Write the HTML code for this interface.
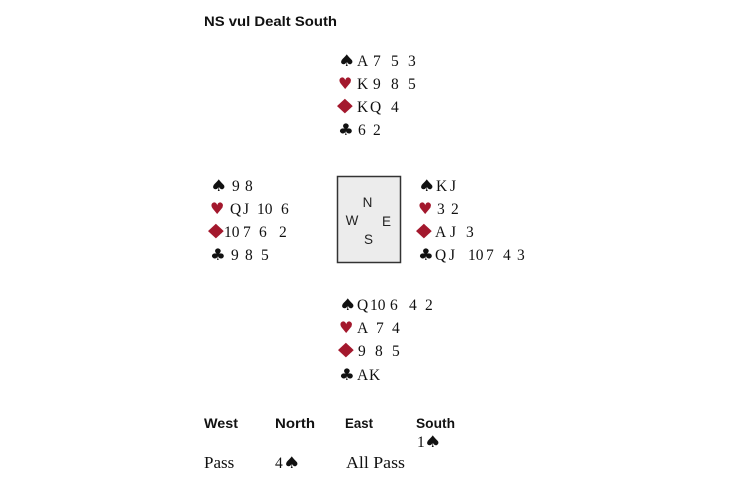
<!DOCTYPE html>
<html><head><meta charset="utf-8"><style>
html,body{margin:0;padding:0;background:#fff;}
svg{display:block;}
.c{font-family:"Liberation Serif",serif;font-size:15.5px;fill:#111;}
.b{font-family:"Liberation Serif",serif;font-size:17px;fill:#111;}
.s{font-family:"DejaVu Sans",sans-serif;font-size:16px;fill:#111;}
.d{font-family:"DejaVu Sans",sans-serif;font-size:19px;fill:#a3182d;}
.r{fill:#a3182d;}
.h{font-family:"Liberation Sans",sans-serif;font-weight:bold;font-size:14px;fill:#111;}
.k{font-family:"Liberation Sans",sans-serif;font-size:13.5px;fill:#222;}
</style></head><body>
<svg width="730" height="486" viewBox="0 0 730 486" xmlns="http://www.w3.org/2000/svg">
<text class="h" x="204" y="26" font-size="15" textLength="133" lengthAdjust="spacingAndGlyphs">NS vul Dealt South</text>

<!-- North -->
<text class="s" transform="translate(338 66) scale(1.22 1)">♠</text>
<text class="c" x="357" y="66">A</text><text class="c" x="373" y="66">7</text><text class="c" x="391" y="66">5</text><text class="c" x="408" y="66">3</text>
<text class="s r" transform="translate(338 89) scale(1.0 1)">♥</text>
<text class="c" x="357" y="89">K</text><text class="c" x="373" y="89">9</text><text class="c" x="391" y="89">8</text><text class="c" x="408" y="89">5</text>
<text class="d" transform="translate(337 111) scale(1.08 1)">◆</text>
<text class="c" x="357" y="112">K</text><text class="c" x="370" y="112">Q</text><text class="c" x="391" y="112">4</text>
<text class="s" transform="translate(338 135) scale(1.1 1)">♣</text>
<text class="c" x="358" y="135">6</text><text class="c" x="373" y="135">2</text>

<!-- West -->
<text class="s" transform="translate(210 191) scale(1.22 1)">♠</text>
<text class="c" x="232" y="191">9</text><text class="c" x="245" y="191">8</text>
<text class="s r" transform="translate(210 214) scale(1.0 1)">♥</text>
<text class="c" x="230" y="214">Q</text><text class="c" x="243" y="214">J</text><text class="c" x="257" y="214">10</text><text class="c" x="281" y="214">6</text>
<text class="d" transform="translate(208 236) scale(1.08 1)">◆</text>
<text class="c" x="224" y="237">10</text><text class="c" x="243" y="237">7</text><text class="c" x="259" y="237">6</text><text class="c" x="279" y="237">2</text>
<text class="s" transform="translate(210 260) scale(1.1 1)">♣</text>
<text class="c" x="231" y="260">9</text><text class="c" x="245" y="260">8</text><text class="c" x="261" y="260">5</text>

<!-- Compass -->
<rect x="337.5" y="176.5" width="63" height="86" fill="#ececec" stroke="#333" stroke-width="1.5"/>
<text class="k" x="367.5" y="207" text-anchor="middle">N</text>
<text class="k" x="352" y="225" text-anchor="middle">W</text>
<text class="k" x="386.5" y="226" text-anchor="middle">E</text>
<text class="k" x="368.5" y="244" text-anchor="middle">S</text>

<!-- East -->
<text class="s" transform="translate(418 191) scale(1.22 1)">♠</text>
<text class="c" x="436" y="191">K</text><text class="c" x="450" y="191">J</text>
<text class="s r" transform="translate(418 214) scale(1.0 1)">♥</text>
<text class="c" x="437" y="214">3</text><text class="c" x="451" y="214">2</text>
<text class="d" transform="translate(416 236) scale(1.08 1)">◆</text>
<text class="c" x="435" y="237">A</text><text class="c" x="450" y="237">J</text><text class="c" x="466" y="237">3</text>
<text class="s" transform="translate(418 260) scale(1.1 1)">♣</text>
<text class="c" x="435" y="260">Q</text><text class="c" x="449" y="260">J</text><text class="c" x="468" y="260">10</text><text class="c" x="486" y="260">7</text><text class="c" x="503" y="260">4</text><text class="c" x="517" y="260">3</text>

<!-- South -->
<text class="s" transform="translate(339 310) scale(1.22 1)">♠</text>
<text class="c" x="357" y="310">Q</text><text class="c" x="370" y="310">10</text><text class="c" x="390" y="310">6</text><text class="c" x="409" y="310">4</text><text class="c" x="425" y="310">2</text>
<text class="s r" transform="translate(339 333) scale(1.0 1)">♥</text>
<text class="c" x="357" y="333">A</text><text class="c" x="376" y="333">7</text><text class="c" x="392" y="333">4</text>
<text class="d" transform="translate(338 355) scale(1.08 1)">◆</text>
<text class="c" x="358" y="356">9</text><text class="c" x="375" y="356">8</text><text class="c" x="392" y="356">5</text>
<text class="s" transform="translate(339 380) scale(1.1 1)">♣</text>
<text class="c" x="357" y="380">A</text><text class="c" x="369" y="380">K</text>

<!-- Bidding -->
<text class="h" x="204" y="428" textLength="34" lengthAdjust="spacingAndGlyphs">West</text>
<text class="h" x="275" y="428" textLength="40" lengthAdjust="spacingAndGlyphs">North</text>
<text class="h" x="345" y="428" textLength="28" lengthAdjust="spacingAndGlyphs">East</text>
<text class="h" x="416" y="428" textLength="39" lengthAdjust="spacingAndGlyphs">South</text>
<text class="c" x="417" y="447">1</text><text class="s" transform="translate(424 447) scale(1.22 1)">♠</text>
<text class="b" x="204" y="468">Pass</text>
<text class="c" x="275" y="468">4</text><text class="s" transform="translate(283 468) scale(1.22 1)">♠</text>
<text class="b" x="346" y="468" textLength="59" lengthAdjust="spacingAndGlyphs">All Pass</text>
</svg>
</body></html>
